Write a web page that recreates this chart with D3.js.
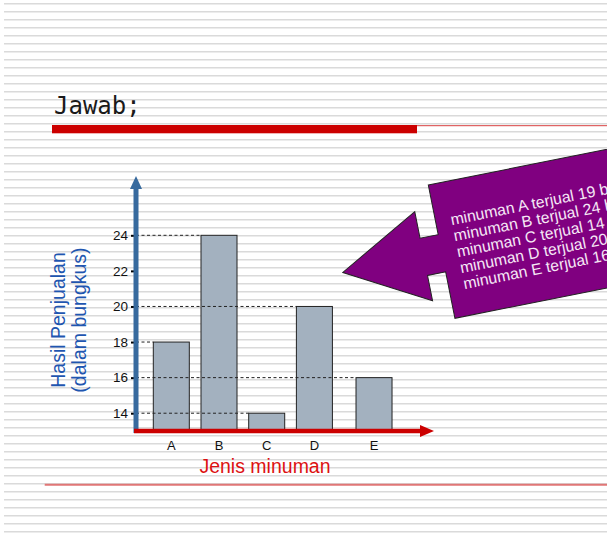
<!DOCTYPE html>
<html>
<head>
<meta charset="utf-8">
<script src="https://cdn.jsdelivr.net/npm/d3@7"></script>
<style>
  body { margin: 0; background: #fff; }
  svg { display: block; }
</style>
</head>
<body>
<svg id="chart"></svg>
<script>
// data
const categories = ["A", "B", "C", "D", "E"];
const sales = [18, 24, 14, 20, 16];
const yTicks = [14, 16, 18, 20, 22, 24];
const calloutSold = [19, 24, 14, 20, 16];   // numbers as written in the callout

const W = 607, H = 536;
const svg = d3.select("#chart").attr("width", W).attr("height", H);

svg.append("rect").attr("width", W).attr("height", H).attr("fill", "#fff");

// striped slide background
const stripes = svg.append("g");
d3.range(3, H, 8).forEach(y0 => {
    stripes.append("rect").attr("x", 4).attr("y", y0).attr("width", W - 4).attr("height", 1).attr("fill", "#dadada");
    stripes.append("rect").attr("x", 4).attr("y", y0 + 1).attr("width", W - 4).attr("height", 1).attr("fill", "#ececec");
});

// title + red rule
svg.append("text")
    .attr("x", 54).attr("y", 113.5)
    .style("font-family", "'DejaVu Sans Mono', monospace")
    .style("font-size", "24px")
    .attr("fill", "#1a1a1a")
    .text("Jawab;");

svg.append("rect").attr("x", 52).attr("y", 125).attr("width", 365).attr("height", 8.3).attr("fill", "#cc0000");
svg.append("line").attr("x1", 417).attr("x2", W).attr("y1", 125.7).attr("y2", 125.7)
    .attr("stroke", "#d84040").attr("stroke-width", 1);

// bottom rule
svg.append("line").attr("x1", 44.7).attr("x2", W).attr("y1", 484.7).attr("y2", 484.7)
    .attr("stroke", "#e07676").attr("stroke-width", 2);

// scales
const axisX = 136, axisY = 431;

const y = d3.scaleLinear()
    .domain([13, 24])
    .range([axisY, 235.3]);

const x = d3.scaleBand()
    .domain(categories)
    .range([153.3, 380.1])
    .paddingInner(0.245)
    .paddingOuter(0);

// E sits a little further right on the slide
const extraGap = x.step() * 0.25;
const xLeft = c => x(c) + (c === "E" ? extraGap : 0);

const bars = categories.map((c, i) => ({cat: c, value: sales[i]}));

// bars
svg.selectAll(".bar")
    .data(bars)
    .enter().append("rect")
    .attr("class", "bar")
    .attr("x", d => xLeft(d.cat))
    .attr("y", d => y(d.value))
    .attr("width", x.bandwidth())
    .attr("height", d => axisY - y(d.value))
    .attr("fill", "#a3b1bf")
    .attr("stroke", "#222")
    .attr("stroke-width", 1);

// dashed guides from the axis to each bar top
svg.selectAll(".guide")
    .data(bars)
    .enter().append("line")
    .attr("class", "guide")
    .attr("x1", axisX)
    .attr("x2", d => xLeft(d.cat))
    .attr("y1", d => y(d.value))
    .attr("y2", d => y(d.value))
    .attr("stroke", "#222")
    .attr("stroke-width", 1)
    .attr("stroke-dasharray", "3,2.5");

// y ticks
const yAxis = svg.append("g")
    .attr("transform", `translate(${axisX},0)`)
    .call(d3.axisLeft(y).tickValues(yTicks).tickSize(5).tickPadding(3));
yAxis.select(".domain").remove();
yAxis.selectAll(".tick line").attr("stroke", "#000").attr("stroke-width", 2);
yAxis.selectAll(".tick text")
    .style("font-family", "Arial, 'Liberation Sans', sans-serif")
    .style("font-size", "13.5px")
    .attr("fill", "#111");

// category labels
svg.selectAll(".cat")
    .data(bars)
    .enter().append("text")
    .attr("class", "cat")
    .attr("x", d => xLeft(d.cat) + x.bandwidth() / 2)
    .attr("y", 449.5)
    .attr("text-anchor", "middle")
    .style("font-family", "Arial, 'Liberation Sans', sans-serif")
    .style("font-size", "13px")
    .attr("fill", "#111")
    .text(d => d.cat);

// axis arrows
const blue = "#376a9e", red = "#cc0000";
svg.append("line").attr("x1", axisX).attr("x2", axisX).attr("y1", axisY + 2).attr("y2", 188)
    .attr("stroke", blue).attr("stroke-width", 5);
svg.append("path").attr("d", `M${axisX - 6},189 L${axisX},176 L${axisX + 6},189 Z`).attr("fill", blue);

svg.append("line").attr("x1", axisX - 2).attr("x2", 421).attr("y1", axisY).attr("y2", axisY)
    .attr("stroke", red).attr("stroke-width", 4.5);
svg.append("path").attr("d", `M420,${axisY - 6} L434,${axisY} L420,${axisY + 6} Z`).attr("fill", red);

// axis titles
const yTitle = svg.append("text")
    .attr("transform", "translate(0,320) rotate(-90)")
    .attr("text-anchor", "middle")
    .style("font-family", "Arial, 'Liberation Sans', sans-serif")
    .style("font-size", "19.5px")
    .attr("fill", "#1f56b0");
yTitle.append("tspan").attr("x", 0).attr("y", 65).text("Hasil Penjualan");
yTitle.append("tspan").attr("x", 0).attr("y", 86).text("(dalam bungkus)");

svg.append("text")
    .attr("x", 265).attr("y", 472.5)
    .attr("text-anchor", "middle")
    .style("font-family", "Arial, 'Liberation Sans', sans-serif")
    .style("font-size", "19.5px")
    .attr("fill", "#dd1111")
    .text("Jenis minuman");

// purple arrow callout (runs off the right edge, as on the slide)
const callout = svg.append("g")
    .attr("transform", "translate(428.3,185) rotate(-11.3)");

const bodyW = 260, bodyH = 136;
const calloutShape = [
    [0, 0], [bodyW, 0], [bodyW, bodyH], [0, bodyH],
    [0, 88.6], [-18.5, 88.6], [-18.5, 114.3], [-101, 69],
    [-18.5, 23.5], [-18.5, 50.6], [0, 50.6]
];
callout.append("path")
    .attr("d", d3.line()(calloutShape) + "Z")
    .attr("fill", "#800080")
    .attr("stroke", "#222")
    .attr("stroke-width", 1);

callout.selectAll(".cl")
    .data(categories)
    .enter().append("text")
    .attr("class", "cl")
    .attr("x", 15)
    .attr("y", (d, i) => 44 + i * 16.3)
    .style("font-family", "Arial, 'Liberation Sans', sans-serif")
    .style("font-size", "15.8px")
    .attr("fill", "#f6e8f6")
    .text((d, i) => `minuman ${d} terjual ${calloutSold[i]} bungkus`);
</script>
</body>
</html>
